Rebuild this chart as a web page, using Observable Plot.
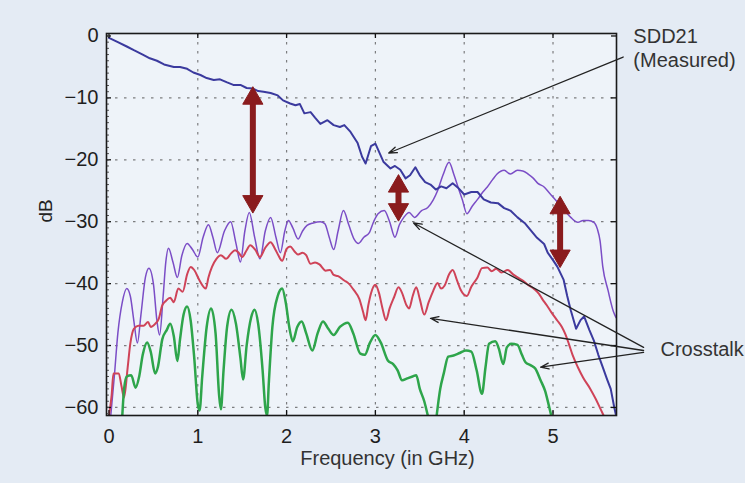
<!DOCTYPE html>
<html><head><meta charset="utf-8">
<script src="https://cdn.jsdelivr.net/npm/d3@7"></script>
<script src="https://cdn.jsdelivr.net/npm/@observablehq/plot@0.6"></script>
<style>html,body{margin:0;padding:0;background:#e4ebf4;} #chart{width:745px;height:483px;overflow:hidden;}</style>
</head><body><div id="chart"></div>
<script>
// ---- data: [frequency GHz, dB] ----
const sdd21 = [[0,-0.3],[0.1,-1.0],[0.2,-1.7],[0.28,-2.3],[0.38,-3.0],[0.46,-3.6],[0.54,-4.0],[0.62,-4.6],[0.73,-5.0],[0.8,-5.0],[0.88,-5.3],[0.95,-5.9],[1.03,-6.3],[1.1,-6.8],[1.18,-7.1],[1.25,-7.0],[1.33,-7.5],[1.4,-7.9],[1.48,-7.9],[1.55,-8.4],[1.62,-8.5],[1.68,-8.9],[1.74,-9.0],[1.82,-9.2],[1.9,-9.6],[1.96,-10.4],[2.04,-10.9],[2.1,-11.2],[2.15,-11.0],[2.2,-12.5],[2.27,-12.3],[2.32,-13.2],[2.38,-14.2],[2.46,-13.6],[2.53,-14.4],[2.6,-14.7],[2.65,-14.4],[2.72,-15.5],[2.8,-17.3],[2.85,-19.5],[2.89,-20.6],[2.95,-17.8],[3.0,-17.4],[3.05,-19.0],[3.09,-20.3],[3.17,-21.4],[3.22,-21.0],[3.28,-21.6],[3.34,-23.0],[3.39,-22.5],[3.45,-21.2],[3.5,-22.5],[3.56,-23.6],[3.62,-24.0],[3.68,-24.8],[3.74,-24.3],[3.8,-24.6],[3.87,-23.8],[3.93,-24.5],[4.0,-25.6],[4.08,-25.2],[4.15,-25.2],[4.22,-26.4],[4.3,-26.9],[4.38,-27.0],[4.45,-27.8],[4.52,-28.2],[4.6,-29.3],[4.68,-30.2],[4.75,-31.4],[4.82,-32.6],[4.9,-33.6],[4.94,-35.0],[5.0,-36.2],[5.05,-37.3],[5.12,-39.4],[5.16,-42.0],[5.2,-44.3],[5.26,-47.3],[5.31,-45.9],[5.35,-45.3],[5.41,-47.5],[5.46,-49.2],[5.51,-51.5],[5.56,-53.5],[5.61,-55.5],[5.65,-57.0],[5.69,-60.0],[5.71,-61.3]];

const crosstalkNear = [[0.02,-61.3],[0.06,-55],[0.1,-48],[0.15,-43],[0.2,-40.8],[0.24,-42],[0.28,-46],[0.32,-49.6],[0.36,-45],[0.41,-39],[0.45,-37.5],[0.5,-40],[0.54,-46],[0.57,-48.3],[0.61,-42],[0.64,-36.5],[0.67,-34.3],[0.72,-36.5],[0.77,-39],[0.82,-35.5],[0.88,-33.5],[0.94,-34.5],[1.0,-35.7],[1.06,-32.5],[1.12,-30.5],[1.17,-32.5],[1.22,-35],[1.3,-31.5],[1.37,-30],[1.43,-33.5],[1.48,-36.5],[1.53,-31.5],[1.58,-28.5],[1.64,-32.5],[1.7,-36],[1.76,-31.5],[1.82,-29.3],[1.88,-32.5],[1.93,-35],[1.98,-31.5],[2.02,-29.8],[2.07,-31.0],[2.13,-32.8],[2.18,-31.5],[2.23,-30.6],[2.3,-30.2],[2.38,-30.0],[2.43,-30.3],[2.48,-32.5],[2.53,-34.5],[2.58,-31.5],[2.64,-28.2],[2.7,-30.5],[2.76,-32.8],[2.81,-33.5],[2.87,-32.5],[2.93,-31.8],[2.98,-30.0],[3.03,-28.7],[3.1,-28.2],[3.16,-30.0],[3.22,-32.5],[3.27,-30.5],[3.32,-29.3],[3.38,-28.5],[3.44,-29.3],[3.52,-28.2],[3.59,-27.7],[3.65,-26.5],[3.7,-25.0],[3.76,-22.5],[3.83,-20.4],[3.88,-22.2],[3.93,-24.4],[3.98,-26.5],[4.03,-28.7],[4.09,-27.5],[4.15,-26.4],[4.21,-25.2],[4.26,-24.4],[4.32,-23.2],[4.37,-22.3],[4.45,-21.7],[4.52,-22.3],[4.6,-21.7],[4.66,-21.8],[4.72,-22.3],[4.78,-23.0],[4.83,-23.8],[4.9,-24.4],[4.95,-25.2],[5.0,-26.0],[5.07,-27.2],[5.14,-28.4],[5.2,-29.3],[5.28,-30.1],[5.34,-29.8],[5.4,-29.8],[5.46,-30.1],[5.5,-31.2],[5.53,-33.1],[5.56,-37.2],[5.62,-41.1],[5.68,-44.5],[5.71,-45.5]];

const crosstalkMid = [[0.0,-61.3],[0.03,-58],[0.05,-54.5],[0.11,-54.5],[0.14,-56.5],[0.17,-58.4],[0.21,-53.6],[0.24,-49.7],[0.28,-47.3],[0.33,-46.8],[0.39,-46.8],[0.44,-46.2],[0.47,-47.0],[0.52,-46.5],[0.56,-45.7],[0.6,-43.5],[0.64,-42.8],[0.69,-42.3],[0.73,-43.0],[0.78,-40.8],[0.83,-41.3],[0.88,-38.5],[0.92,-37.3],[0.96,-37.8],[1.02,-39.5],[1.09,-40.8],[1.12,-39],[1.16,-37.3],[1.21,-36.0],[1.26,-35.4],[1.32,-36.0],[1.37,-35.2],[1.42,-34.6],[1.46,-35.0],[1.5,-35.7],[1.55,-34.6],[1.59,-33.8],[1.65,-34.6],[1.7,-35.7],[1.76,-34.2],[1.82,-33.3],[1.87,-34.4],[1.91,-35.5],[1.95,-36.3],[2.0,-34.4],[2.04,-34.0],[2.09,-34.8],[2.13,-35.3],[2.18,-35.0],[2.22,-35.4],[2.27,-36.8],[2.32,-36.6],[2.37,-36.9],[2.44,-37.9],[2.49,-37.8],[2.53,-38.6],[2.58,-38.8],[2.65,-39.5],[2.7,-40.0],[2.76,-41.1],[2.82,-42.5],[2.86,-44.5],[2.89,-45.9],[2.92,-43.5],[2.95,-41.6],[3.0,-40.2],[3.04,-41.5],[3.08,-44],[3.12,-45.9],[3.16,-44],[3.21,-42.2],[3.26,-40.6],[3.3,-41.5],[3.35,-43.5],[3.38,-44.0],[3.42,-42],[3.46,-40.6],[3.5,-42.5],[3.55,-45.0],[3.6,-43],[3.65,-41.2],[3.7,-39.9],[3.74,-40.8],[3.78,-40.3],[3.83,-38.5],[3.87,-37.8],[3.92,-39.5],[3.96,-41.0],[4.03,-42.0],[4.08,-40.5],[4.15,-39.0],[4.2,-37.5],[4.26,-37.4],[4.31,-38.0],[4.36,-37.6],[4.42,-38.2],[4.49,-37.8],[4.55,-38.5],[4.6,-39.0],[4.66,-39.5],[4.72,-40.2],[4.79,-40.9],[4.84,-41.6],[4.88,-42.5],[4.93,-43.5],[4.98,-44.6],[5.05,-46.0],[5.1,-47.0],[5.14,-48.2],[5.18,-49.8],[5.22,-51.5],[5.28,-53.5],[5.34,-55.2],[5.42,-57.0],[5.48,-58.6],[5.54,-60.4],[5.57,-61.3]];

const crosstalkFarA = [[0.15,-61.3],[0.17,-57],[0.2,-55.0],[0.25,-54.8],[0.3,-56.8],[0.34,-55.0],[0.38,-51.5],[0.43,-49.5],[0.47,-51],[0.52,-54.5],[0.55,-53.5],[0.6,-49],[0.65,-47.5],[0.69,-46.5],[0.73,-48.5],[0.77,-52.5],[0.8,-49.0],[0.84,-45.0],[0.88,-43.7],[0.92,-46],[0.96,-52],[1.0,-59.5],[1.02,-60.5],[1.05,-55],[1.1,-47],[1.15,-44.0],[1.2,-48],[1.24,-58],[1.26,-60.3],[1.29,-54],[1.33,-47],[1.38,-44.2],[1.43,-46.5],[1.48,-52],[1.51,-55.5],[1.55,-50],[1.6,-45.5],[1.64,-44.2],[1.68,-46.5],[1.73,-54],[1.76,-60],[1.78,-61.3],[1.8,-56],[1.84,-47],[1.9,-42],[1.95,-40.8],[1.99,-43],[2.03,-47],[2.07,-49.3],[2.12,-47],[2.17,-46.1],[2.22,-48],[2.29,-50.8],[2.35,-48],[2.41,-46.1],[2.47,-47.3],[2.53,-48.3],[2.6,-47],[2.69,-46.3],[2.75,-48],[2.83,-51.3],[2.88,-51.5],[2.94,-49.5],[3.0,-48.3],[3.06,-49.5],[3.14,-52.4],[3.2,-53],[3.25,-54],[3.3,-55.6],[3.36,-55.3],[3.42,-55.0],[3.46,-54.8],[3.5,-57],[3.55,-59],[3.59,-61.3]];
const crosstalkFarB = [[3.69,-61.3],[3.73,-57],[3.77,-54.5],[3.82,-51.8],[3.88,-51.6],[3.95,-51.2],[4.02,-50.8],[4.08,-51.0],[4.14,-54],[4.2,-57.8],[4.24,-53.5],[4.28,-49.7],[4.35,-49.3],[4.39,-50.5],[4.44,-53],[4.48,-50.3],[4.53,-49.7],[4.6,-49.9],[4.65,-51.5],[4.69,-52.7],[4.75,-53.2],[4.8,-53.7],[4.86,-55.6],[4.91,-57.3],[4.95,-59.5],[4.98,-61.3]];

// margin arrows (dB gap between SDD21 and crosstalk)
const gapFreq = [1.62, 3.26, 5.08];
const gapTop = [-8.3, -22.5, -26.0];
const gapBottom = [-28.5, -29.8, -37.3];

// annotation pointers
const sddPointer = [{x1: 5.79, y1: -3.4, x2: 3.15, y2: -18.9}];
const crossPointers = [
  {x1: 6.02, y1: -50.3, x2: 3.43, y2: -30.2},
  {x1: 6.02, y1: -50.8, x2: 3.62, y2: -45.6},
  {x1: 6.02, y1: -51.1, x2: 4.86, y2: -53.5}
];
const labels = [
  {x: 5.905, y: -0.1, text: "SDD21"},
  {x: 5.905, y: -3.9, text: "(Measured)"},
  {x: 6.21, y: -50.6, text: "Crosstalk"}
];

const xTicks = [0, 1, 2, 3, 4, 5];
const yTicks = [0, -10, -20, -30, -40, -50, -60];
const yMinor = d3.range(-61, 1, 1);
const xDomain = [-0.028, 5.715];
const yDomain = [-61.3, 0.4];

// ---- build ----
const rows = (pts, seg) => pts.map(([f, db]) => ({f, db, seg}));
const farRows = rows(crosstalkFarA, "a").concat(rows(crosstalkFarB, "b"));
const gapShaft = gapFreq.map((x, i) => ({x, y1: gapTop[i], y2: gapBottom[i]}));
const gapHeadsUp = gapFreq.map((x, i) => ({x, y: gapTop[i]}));
const gapHeadsDown = gapFreq.map((x, i) => ({x, y: gapBottom[i]}));

const W = 745, H = 483, mL = 106, mR = 129, mT = 33, mB = 68;
const fw = W - mL - mR, fh = H - mT - mB;
const font = "'Liberation Sans', Arial, Helvetica, sans-serif";
const darkRed = "#8a1b1d";

const chart = Plot.plot({
  width: W, height: H,
  marginLeft: mL, marginRight: mR, marginTop: mT, marginBottom: mB,
  style: {background: "#e4ebf4", fontFamily: font, color: "#1e1e1e", overflow: "visible"},
  x: {domain: xDomain},
  y: {domain: yDomain},
  marks: [
    Plot.frame({fill: "#eef3f9", stroke: null}),
    Plot.gridX(xTicks.slice(1), {stroke: "#555", strokeOpacity: 0.75, strokeWidth: 1.2, strokeDasharray: "2.5,6.5"}),
    Plot.gridY(yTicks.slice(1), {stroke: "#555", strokeOpacity: 0.75, strokeWidth: 1.2, strokeDasharray: "2.5,6.5"}),
    Plot.line(rows(crosstalkNear, "n"), {x: "f", y: "db", stroke: "#7b4dc6", strokeWidth: 1.5, clip: true, curve: "monotone-x"}),
    Plot.line(rows(crosstalkMid, "m"), {x: "f", y: "db", stroke: "#cf4358", strokeWidth: 2, clip: true, curve: "monotone-x"}),
    Plot.line(farRows, {x: "f", y: "db", z: "seg", stroke: "#2ea54b", strokeWidth: 2.5, clip: true, curve: "monotone-x"}),
    Plot.line(rows(sdd21, "s"), {x: "f", y: "db", stroke: "#3b3a9e", strokeWidth: 2, clip: true}),
    // inward ticks
    Plot.tickX(xTicks, {x: d => d, insetTop: fh - 5, stroke: "#111", strokeWidth: 1.3}),
    Plot.tickX(xTicks, {x: d => d, insetBottom: fh - 5, stroke: "#111", strokeWidth: 1.3}),
    Plot.tickY(yTicks, {y: d => d, insetRight: fw - 5, stroke: "#111", strokeWidth: 1.3}),
    Plot.tickY(yTicks, {y: d => d, insetLeft: fw - 5, stroke: "#111", strokeWidth: 1.3}),
    Plot.tickY(yMinor, {y: d => d, insetRight: fw - 3, stroke: "#555", strokeWidth: 1}),
    Plot.frame({stroke: "#1a1a1a", strokeWidth: 1.6}),
    // tick labels
    Plot.axisX({ticks: xTicks, tickSize: 0, tickPadding: 13, fontSize: 20, label: null, tickFormat: d => String(d)}),
    Plot.axisY({ticks: yTicks, tickSize: 0, tickPadding: 8, fontSize: 20, label: null}),
    // axis titles
    Plot.text(["dB"], {text: d => d, frameAnchor: "left", dx: -61, dy: -2, rotate: -90, fontSize: 19, fill: "#222"}),
    Plot.text(["Frequency (in GHz)"], {text: d => d, frameAnchor: "bottom", dx: 26, dy: 49, fontSize: 20, fill: "#333"}),
    // gap arrows: shaft + filled heads
    Plot.arrow(gapShaft, {x: "x", y1: "y1", y2: "y2", stroke: darkRed, strokeWidth: 6, headLength: 0, insetStart: 10, insetEnd: 10}),
    Plot.dot(gapHeadsUp, {x: "x", y: "y", symbol: "triangle", r: 7.5, fill: darkRed, stroke: darkRed, strokeWidth: 1, dy: 11}),
    Plot.dot(gapHeadsDown, {x: "x", y: "y", symbol: "triangle", r: 7.5, rotate: 180, fill: darkRed, stroke: darkRed, strokeWidth: 1, dy: -11}),
    // pointers
    Plot.arrow(sddPointer, {x1: "x1", y1: "y1", x2: "x2", y2: "y2", stroke: "#222", strokeWidth: 1.3, headLength: 10, headAngle: 40}),
    Plot.arrow(crossPointers, {x1: "x1", y1: "y1", x2: "x2", y2: "y2", stroke: "#222", strokeWidth: 1.3, headLength: 10, headAngle: 40}),
    Plot.text(labels, {x: "x", y: "y", text: "text", textAnchor: "start", fontSize: 20, fill: "#333"})
  ]
});
document.getElementById("chart").appendChild(chart);
</script>
</body></html>
